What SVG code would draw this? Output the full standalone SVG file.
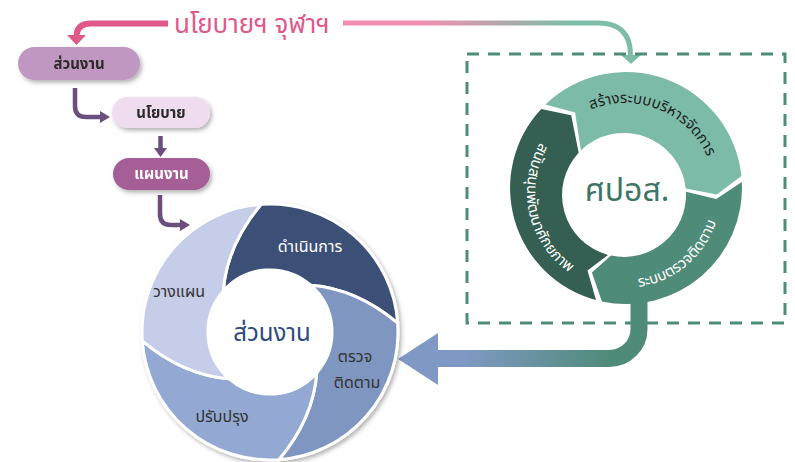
<svg xmlns="http://www.w3.org/2000/svg" width="795" height="462" viewBox="0 0 795 462">
<defs>
<style>
.th{font-family:"Noto Sans Thai","Noto Sans Thai UI","Noto Looped Thai",Tahoma,Loma,Garuda,"DejaVu Sans",sans-serif;}
.pill-t{font-size:15px;font-weight:bold;text-anchor:middle;}
.lbl{font-size:16px;text-anchor:middle;fill:#333;}
.ring-t{font-size:15px;}
.conn-p{fill:none;stroke:#6C4E7E;stroke-width:4.5;}
.head-p{fill:#6C4E7E;}
.sep{stroke:#fff;stroke-width:3;stroke-linejoin:round;}
</style>
<linearGradient id="gPinkTeal" gradientUnits="userSpaceOnUse" x1="420" y1="0" x2="570" y2="0"><stop offset="0" stop-color="#F28FB0"/><stop offset="1" stop-color="#7DBDA8"/></linearGradient>
<linearGradient id="gTealBlue" gradientUnits="userSpaceOnUse" x1="613" y1="0" x2="463" y2="0"><stop offset="0" stop-color="#4E8B78"/><stop offset="1" stop-color="#8099C4"/></linearGradient>
<filter id="sh" x="-20%" y="-20%" width="140%" height="150%"><feDropShadow dx="2" dy="2.5" stdDeviation="2" flood-color="#000" flood-opacity="0.3"/></filter>
<path id="tpTop" d="M582.7,113.5 A90,90 0 0 1 710.6,165.2"/>
<path id="tpRight" d="M608.3,286.5 A96,96 0 0 0 721,192"/>
<path id="tpLeft" d="M544.7,135.8 A98,98 0 0 0 576,276.9"/>
</defs>

<g id="connectors">
  <path d="M168,23.5 H91 Q76.5,23.5 76.5,37" fill="none" stroke="#E0588A" stroke-width="6"/>
  <polygon points="67,35 86,35 76.5,45" fill="#E0588A"/>
  <path d="M343,23 H598 Q630.5,23 630.5,55" fill="none" stroke="url(#gPinkTeal)" stroke-width="5"/>
  <polygon points="621,55 641,55 631,64" fill="#7DBDA8"/>
  <path class="conn-p" d="M75,88 V106 Q75,117 86,117 H101"/>
  <polygon class="head-p" points="100,111 100,123 110,117"/>
  <path class="conn-p" d="M160.5,136 V149"/>
  <polygon class="head-p" points="154,148 167,148 160.5,157"/>
  <path class="conn-p" d="M160,195 V214 Q160,225 171,225 H181"/>
  <polygon class="head-p" points="180,219 180,231 190,225"/>
  <path d="M639,290 V329 A29.5,29.5 0 0 1 609.5,358.5 H436" fill="none" stroke="url(#gTealBlue)" stroke-width="17"/>
  <polygon points="438,333 438,385 398,359" fill="#8099C4"/>
</g>

<g id="title">
  <text class="th" x="174" y="33" font-size="26" fill="#E0588A">นโยบายฯ จุฬาฯ</text>
</g>

<g id="node-suanngan-top" filter="url(#sh)">
  <rect x="18" y="47" width="122" height="33" rx="16.5" fill="#C097C0"/>
  <text class="th pill-t" x="79" y="68.5" fill="#2A2A2A">ส่วนงาน</text>
</g>
<g id="node-policy" filter="url(#sh)">
  <rect x="112" y="97" width="98" height="31" rx="15.5" fill="#EFDDEF"/>
  <text class="th pill-t" x="161" y="118" fill="#2A2A2A">นโยบาย</text>
</g>
<g id="node-plan" filter="url(#sh)">
  <rect x="113" y="158" width="97" height="32" rx="16" fill="#A65E96"/>
  <text class="th pill-t" x="161.5" y="179" fill="#FFFFFF">แผนงาน</text>
</g>

<g id="node-cycle">
  <g filter="url(#sh)">
    <path id="seg-do" class="sep" fill="#3B5077" d="M261.1,204.3 A128,128 0 0 1 397.7,323.1 Q356.8,288.7 310.7,285.2 A62,62 0 0 0 223.2,291.3 Q226.7,245.2 261.1,204.3 Z"/>
    <path id="seg-check" class="sep" fill="#7F96C1" d="M397.7,323.1 A128,128 0 0 1 278.9,459.7 Q313.3,418.8 316.8,372.7 A62,62 0 0 0 310.7,285.2 Q356.8,288.7 397.7,323.1 Z"/>
    <path id="seg-act" class="sep" fill="#94A8D4" d="M278.9,459.7 A128,128 0 0 1 142.3,340.9 Q183.2,375.3 229.3,378.8 A62,62 0 0 0 316.8,372.7 Q313.3,418.8 278.9,459.7 Z"/>
    <path id="seg-plan" class="sep" fill="#C5CDE8" d="M142.3,340.9 A128,128 0 0 1 261.1,204.3 Q226.7,245.2 223.2,291.3 A62,62 0 0 0 229.3,378.8 Q183.2,375.3 142.3,340.9 Z"/>
  </g>
  <circle cx="270" cy="332" r="61" fill="#FFFFFF"/>
  <text class="th lbl" x="310" y="252" style="fill:#FFFFFF">ดำเนินการ</text>
  <text class="th lbl" x="179" y="297">วางแผน</text>
  <text class="th lbl" x="355" y="362">ตรวจ</text>
  <text class="th lbl" x="357" y="388">ติดตาม</text>
  <text class="th lbl" x="222" y="422">ปรับปรุง</text>
  <text class="th" x="272" y="341" font-size="24" text-anchor="middle" fill="#2B4A80">ส่วนงาน</text>
</g>

<g id="node-center-frame">
  <rect x="467" y="54" width="318" height="269" fill="none" stroke="#4E8B78" stroke-width="3" stroke-dasharray="12 9"/>
</g>

<g id="node-ring">
  <path id="ring-top" fill="#7DBBA9" d="M545.4,104.6 A116,116 0 0 1 741.4,175.9 L716.8,194.4 L685.7,188.5 A62,62 0 0 0 580.9,150.4 L575.1,112.6 Z"/>
  <path id="ring-right" fill="#4E8B78" d="M741.8,181.9 A116,116 0 0 1 601.9,301.5 L591.9,272.4 L611.1,255.6 A62,62 0 0 0 685.9,191.8 L716.3,199.1 Z"/>
  <path id="ring-left" fill="#355F52" d="M596,300 A116,116 0 0 1 541.2,108.9 L571.2,115.3 L578.7,152.7 A62,62 0 0 0 608,254.9 L587.5,270.5 Z"/>
  <text class="th ring-t" fill="#1E1E1E"><textPath href="#tpTop" startOffset="50%" text-anchor="middle">สร้างระบบบริหารจัดการ</textPath></text>
  <text class="th ring-t" fill="#FFFFFF"><textPath href="#tpRight" startOffset="50%" text-anchor="middle">ระบบตรวจติดตาม</textPath></text>
  <text class="th ring-t" fill="#FFFFFF"><textPath href="#tpLeft" startOffset="50%" text-anchor="middle">สนับสนุนพัฒนาศักยภาพ</textPath></text>
  <text class="th" x="627" y="201" font-size="32" text-anchor="middle" fill="#3E7565">ศปอส.</text>
</g>
</svg>
